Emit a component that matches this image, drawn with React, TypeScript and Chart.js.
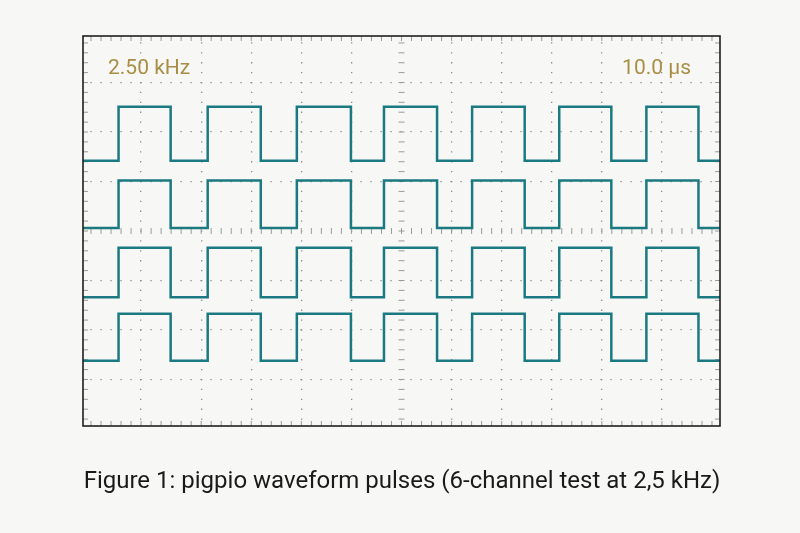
import { useEffect, useRef } from 'react';
import { Chart, registerables } from 'chart.js';
import type { Plugin } from 'chart.js';

Chart.register(...registerables);

// edge times in µs, measured from the centre of the screen
const RISE_US = [-56.5, -38.7, -20.9, -3.5, 14.1, 31.5, 48.9];
const FALL_US = [-46.1, -28.1, -10.1, 7.1, 24.6, 41.9, 59.3];

// trace levels in screen divisions (centre = 0)
const CHANNEL_HIGH = [2.51, 1.02, -0.34, -1.67];
const CHANNEL_LOW = [1.42, 0.06, -1.34, -2.62];

const X_RANGE = [-63.6, 63.6];
const Y_RANGE = [-3.94, 3.94];
const X_GRID = [-52, -40, -30, -20, -10, 10, 20, 30, 40, 52];
const Y_GRID = [-3, -2, -1, 1, 2, 3];
const X_MINOR_STEP = 2;
const Y_MINOR_STEP = 0.2;

const FREQ_LABEL = '2.50 kHz';
const TIMEBASE_LABEL = '10.0 µs';
const CAPTION = 'Figure 1: pigpio waveform pulses (6-channel test at 2,5 kHz)';

const TRACE_COLOR = '#1b7a81';
const LABEL_COLOR = '#a88f45';
const BG = '#f7f7f5';

function channelPoints(high: number, low: number) {
  const pts = [{ x: X_RANGE[0], y: low }];
  RISE_US.forEach((r, i) => {
    pts.push({ x: r, y: high });
    pts.push({ x: FALL_US[i], y: low });
  });
  pts.push({ x: X_RANGE[1], y: low });
  return pts;
}

function minorValues(step: number, max: number) {
  const out: number[] = [0];
  for (let v = step; v < max - 1e-6; v += step) {
    out.push(v, -v);
  }
  return out;
}

const scopePlugin: Plugin<'line'> = {
  id: 'scope',
  beforeDatasetsDraw(chart) {
    const { ctx, chartArea: a, scales } = chart;
    const xs = scales.x;
    const ys = scales.y;
    const cx = xs.getPixelForValue(0);
    const cy = ys.getPixelForValue(0);
    ctx.save();
    ctx.strokeStyle = '#9a9a9a';
    ctx.lineWidth = 1;
    ctx.beginPath();
    for (const v of minorValues(X_MINOR_STEP, X_RANGE[1])) {
      const px = xs.getPixelForValue(v);
      ctx.moveTo(px, a.top);
      ctx.lineTo(px, a.top + 5);
      ctx.moveTo(px, a.bottom);
      ctx.lineTo(px, a.bottom - 5);
      ctx.moveTo(px, cy - 3);
      ctx.lineTo(px, cy + 3);
    }
    for (const v of minorValues(Y_MINOR_STEP, Y_RANGE[1])) {
      const py = ys.getPixelForValue(v);
      ctx.moveTo(a.left, py);
      ctx.lineTo(a.left + 5, py);
      ctx.moveTo(a.right, py);
      ctx.lineTo(a.right - 5, py);
      ctx.moveTo(cx - 3, py);
      ctx.lineTo(cx + 3, py);
    }
    ctx.stroke();
    ctx.restore();
  },
  afterDatasetsDraw(chart) {
    const { ctx, chartArea: a } = chart;
    ctx.save();
    ctx.strokeStyle = '#1e1e1e';
    ctx.lineWidth = 1.6;
    ctx.strokeRect(a.left, a.top, a.right - a.left, a.bottom - a.top);

    ctx.fillStyle = LABEL_COLOR;
    ctx.font = '21px Roboto';
    ctx.textBaseline = 'alphabetic';
    ctx.textAlign = 'left';
    ctx.fillText(FREQ_LABEL, 108, 73.5);
    ctx.textAlign = 'right';
    ctx.fillText(TIMEBASE_LABEL, 691, 73.5);

    ctx.fillStyle = '#1a1a1a';
    ctx.font = '24px Roboto';
    ctx.textAlign = 'center';
    ctx.fillText(CAPTION, 402, 487.5);
    ctx.restore();
  },
};

export default function App() {
  const canvasRef = useRef<HTMLCanvasElement>(null);
  const chartRef = useRef<Chart<'line'> | null>(null);

  useEffect(() => {
    if (!canvasRef.current) return;
    if (chartRef.current) chartRef.current.destroy();

    chartRef.current = new Chart(canvasRef.current, {
      type: 'line',
      data: {
        datasets: CHANNEL_HIGH.map((high, i) => ({
          label: `CH${i + 1}`,
          data: channelPoints(high, CHANNEL_LOW[i]),
          borderColor: TRACE_COLOR,
          borderWidth: 2.5,
          stepped: 'before' as const,
          pointRadius: 0,
          fill: false,
        })),
      },
      options: {
        animation: false,
        responsive: true,
        maintainAspectRatio: false,
        layout: { padding: { left: 83, right: 80, top: 36, bottom: 107 } },
        plugins: {
          legend: { display: false },
          tooltip: { enabled: false },
          title: { display: false },
        },
        scales: {
          x: {
            type: 'linear',
            min: X_RANGE[0],
            max: X_RANGE[1],
            afterBuildTicks: (s) => {
              s.ticks = X_GRID.map((v) => ({ value: v }));
            },
            afterFit: (s) => {
              s.height = 0;
            },
            ticks: { display: false },
            grid: { color: '#8c8c8c', lineWidth: 1.3, drawTicks: false },
            border: { display: false, dash: [1.3, 8.6], dashOffset: 3.6 },
          },
          y: {
            type: 'linear',
            min: Y_RANGE[0],
            max: Y_RANGE[1],
            afterBuildTicks: (s) => {
              s.ticks = Y_GRID.map((v) => ({ value: v }));
            },
            afterFit: (s) => {
              s.width = 0;
            },
            ticks: { display: false },
            grid: { color: '#8c8c8c', lineWidth: 1.3, drawTicks: false },
            border: { display: false, dash: [1.3, 8.7], dashOffset: 2.6 },
          },
        },
      },
      plugins: [scopePlugin],
    });

    return () => {
      chartRef.current?.destroy();
      chartRef.current = null;
    };
  }, []);

  return (
    <div style={{ position: 'fixed', left: 0, top: 0, width: 800, height: 533, background: BG }}>
      <canvas ref={canvasRef} />
    </div>
  );
}
